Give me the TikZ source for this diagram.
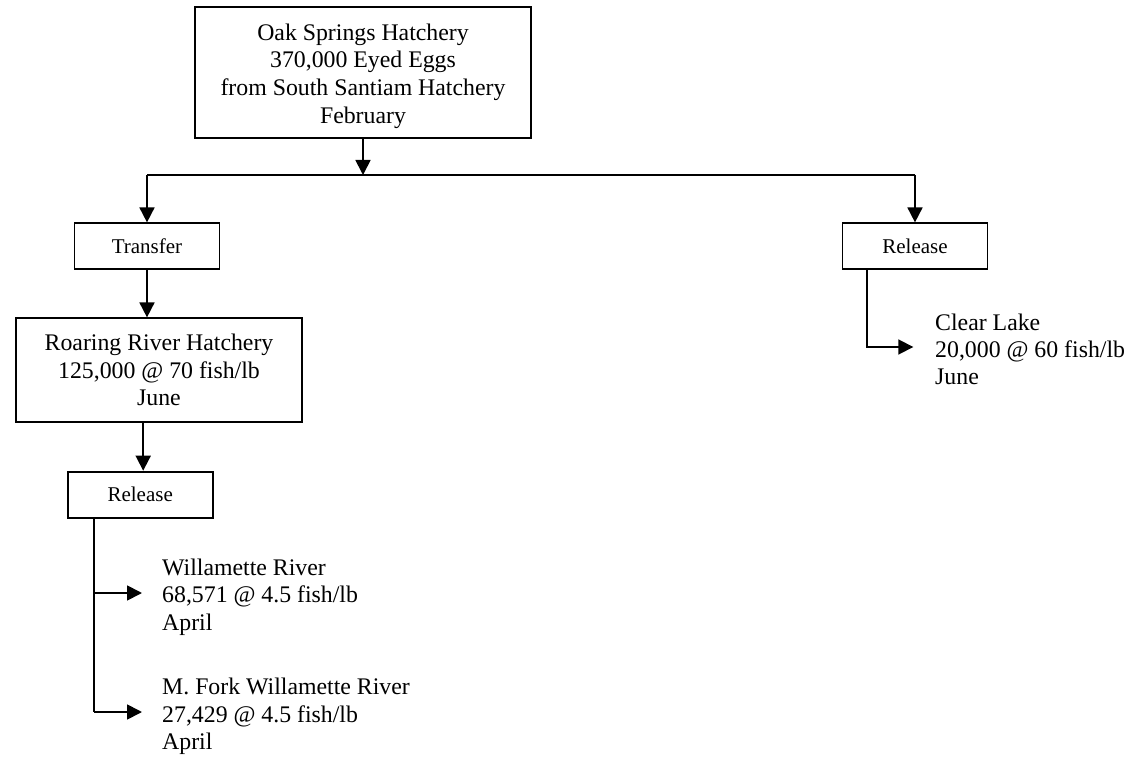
\documentclass[tikz,border=0pt]{standalone}
\usepackage{fontspec}
\setmainfont{Liberation Serif}
\usetikzlibrary{arrows.meta,calc}
\tikzset{
  box/.style={draw=black,line width=1.8pt,rectangle,inner sep=0pt,align=center},
  bigbox/.style={box,font=\fontsize{23.8}{27.6}\selectfont},
  smallbox/.style={box,font=\fontsize{21}{24}\selectfont,minimum width=145pt,minimum height=46pt},
  label/.style={inner sep=0pt,align=left,anchor=west,font=\fontsize{23.8}{27.3}\selectfont},
  boxtext/.style={inner sep=0pt,align=center,font=\fontsize{23.8}{27.6}\selectfont},
  conn/.style={line width=1.8pt},
  arr/.style={conn,-{Triangle[length=15pt,width=15pt]}}
}
\begin{document}
\begin{tikzpicture}[x=1pt,y=-1pt]
\useasboundingbox (0,0) rectangle (1136,757);
% nodes
\node[box,minimum width=336pt,minimum height=131pt] (top) at (363,72.5) {};
\node[boxtext] (toptext) at (363,76)
  {Oak Springs Hatchery\\370,000 Eyed Eggs\\from South Santiam Hatchery\\February};
\node[smallbox] (transfer) at (147,246.3) {Transfer};
\node[smallbox] (rel2) at (915,246.3) {Release};
\node[bigbox,minimum width=286pt,minimum height=103.4pt] (roaring) at (159,370)
  {Roaring River Hatchery\\125,000 @ 70 fish/lb\\June};
\node[smallbox] (rel1) at (140.2,494.6) {Release};
\node[label] (clear) at (935,349.5) {Clear Lake\\20,000 @ 60 fish/lb\\June};
\node[label] (will) at (162,597) {Willamette River\\68,571 @ 4.5 fish/lb\\April};
\node[label] (mfork) at (162,716.5) {M. Fork Willamette River\\27,429 @ 4.5 fish/lb\\April};
% coordinates
\coordinate (bus) at (363,175);
\coordinate (busL) at (147,175);
\coordinate (busR) at (915,175);
\coordinate (cspine) at (866.7,347);
\coordinate (a1) at (94,593);
\coordinate (a2) at (94,712);
% connectors
\draw[arr] (top.south) -- (bus);
\draw[conn] (busL) -- (busR);
\draw[arr] (busL) -- (transfer.north);
\draw[arr] (busR) -- (rel2.north);
\draw[arr] (transfer.south) -- (transfer.south |- roaring.north);
\draw[arr] ($(roaring.south -| rel1.north)+(3,0)$) -- ($(rel1.north)+(3,0)$);
\draw[conn] (a1 |- rel1.south) -- (a2);
\draw[arr] (a1) -- ([xshift=-20pt]a1 -| will.west);
\draw[arr] (a2) -- ([xshift=-20pt]a2 -| mfork.west);
\draw[arr] (cspine |- rel2.south) -- (cspine) -- ([xshift=-21.7pt]cspine -| clear.west);
\end{tikzpicture}
\end{document}
